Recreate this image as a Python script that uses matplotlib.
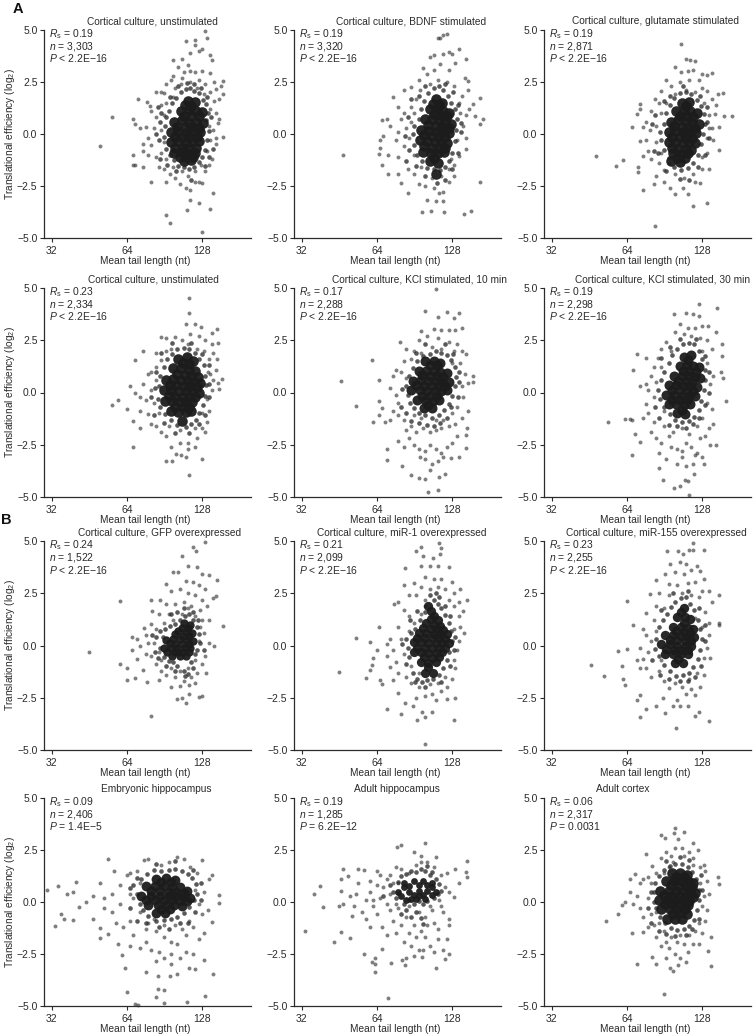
import matplotlib
matplotlib.use("Agg")
import matplotlib.pyplot as plt

W, H = 754, 1034
plt.rcParams['font.family'] = ['Liberation Sans', 'DejaVu Sans']
plt.rcParams['mathtext.fontset'] = 'custom'
plt.rcParams['mathtext.rm'] = 'Liberation Sans'
plt.rcParams['mathtext.it'] = 'Liberation Sans:italic'
plt.rcParams['mathtext.bf'] = 'Liberation Sans:bold'
plt.rcParams['mathtext.default'] = 'regular'

titles = ["Cortical culture, unstimulated", "Cortical culture, BDNF stimulated", "Cortical culture, glutamate stimulated",
          "Cortical culture, unstimulated", "Cortical culture, KCl stimulated, 10 min", "Cortical culture, KCl stimulated, 30 min",
          "Cortical culture, GFP overexpressed", "Cortical culture, miR-1 overexpressed", "Cortical culture, miR-155 overexpressed",
          "Embryonic hippocampus", "Adult hippocampus", "Adult cortex"]
rs_values = ["0.19", "0.19", "0.19", "0.23", "0.17", "0.19", "0.24", "0.21", "0.23", "0.09", "0.19", "0.06"]
n_values = ["3,303", "3,320", "2,871", "2,334", "2,288", "2,298", "1,522", "2,099", "2,255", "2,406", "1,285", "2,317"]
p_values = ["< 2.2E\u221216"] * 9 + ["= 1.4E\u22125", "= 6.2E\u221212", "= 0.0031"]
x_ticks = [32, 64, 128]
x_tick_labels = ["32", "64", "128"]
y_ticks = [-5.0, -2.5, 0.0, 2.5, 5.0]
y_tick_labels = ["\u22125.0", "\u22122.5", "0.0", "2.5", "5.0"]

# (mean tail length in nt, translational efficiency).
# dots_*: individually visible points. ring_*: the crowded edge of the cloud.
# core_*: the saturated overplotted centre.
dots_1 = [(50,-.6),(56,.83),(71,1.7),(77,1.55),(79,1.35),(68,.7),(69,.5),(68,-1),(68,-1.5),(69,-1.5),(74,-1.6),(80,-2.3),(92,-2.3),(92,-3.9),(95,-4.3),(111,-3.65),(115,-3.15),(125,-3.3),(128,-4.7),(138,-3.6),(142,-2.85),(155,-.15),(155,2.55),(131,4.97),(134,4.6),(110,4.45),(120,4.5),(120,4.3),(128,4.1),(124,4),(115,3.9),(98,3.55),(106,3.6),(138,3.8),(140,3.55),(152,2.3),(155,1.9),(146,2.15),(143,2.5),(150,.7),(148,.55),(143,1.6),(150,1.7),(138,2.95),(128,3.05),(120,3),(115,3.05),(108,3),(103,3.2),(112,3.3),(98,2.8),(92,2.4),(88,2),(84,2),(90,1.95),(88,1.4),(80,1.1),(84,.8),(82,.3),(76,.35),(72,.3),(78,-.2),(74,-.5),(80,-.55),(74,-.8),(78,-1),(84,-1.1),(88,-.9),(86,-1.6),(90,-1.7),(95,-1.9),(100,-2.1),(104,-2.4),(110,-2.6),(115,-2.7),(120,-2.3),(124,-2.3),(128,-2.35),(132,-1.8),(136,-1.5),(140,-1.2),(145,-.5),(146,-.2),(142,.2),(145,1),(138,2),(132,2.4),(125,2.6),(115,2.5),(105,2.4),(98,1.8),(92,1.5),(90,.9),(88,.2),(90,-.4),(92,-1.2),(98,-1.6),(106,-1.8),(112,-2),(120,-1.8),(127,-1.5),(134,-.8),(138,-.3),(136,.4),(138,1.2),(130,1.9),(122,2.2),(100,2.2),(96,2.6),(106,2.7)]
ring_1 = [(94,1.1),(97,1.5),(101,1.75),(105,2),(110,2.15),(115,2.2),(119,2.05),(125,1.95),(129,1.65),(133,1.45),(135,1),(133,.65),(137,.15),(134,-.3),(131,-.75),(128,-1.1),(124,-1.35),(119,-1.6),(113,-1.7),(108,-1.6),(103,-1.55),(99,-1.25),(95,-1),(92,-.7),(90,-.15),(91,.4),(92,.8),(87,.6),(86,-.3),(88,1),(95,1.8),(103,2.3),(111,2.45),(119,2.4),(127,2.2),(134,1.8),(139,.8),(141,-.7),(136,-1.1),(131,-1.55),(116,-2.2),(101,-1.8),(93,-1.5),(87,-1.2),(84,0),(85,1.3)]
core_1 = [(112,1.6),(120,1.55),(105,1.1),(113,1.15),(121,1.1),(128,1.05),(99,.6),(106,.65),(113,.55),(121,.6),(129,.55),(96,.1),(103,.15),(110,.05),(118,.1),(126,.1),(96,-.4),(103,-.35),(110,-.45),(117,-.4),(125,-.35),(99,-.9),(106,-.85),(113,-.95),(120,-.9),(108,-1.3),(116,-1.25),(116,1.35),(108,.85),(116,.85),(124,.85),(102,.35),(110,.35),(117,.35),(125,.3),(100,-.15),(107,-.15),(114,-.15),(122,-.15),(100,-.65),(107,-.65),(114,-.65),(121,-.65),(110,-1.1),(118,-1.1),(104,-1.1),(109,1.4)]

dots_2 = [(47,-1),(74,1.8),(65,-.95),(67,.65),(70,.7),(68,-.1),(66,-.3),(66,-.65),(71,-1),(67,-1.5),(71,-1.9),(78,-1.9),(80,-2.35),(85,-2.85),(97,-3.75),(105,-3.7),(119,-3.75),(143,-3.85),(152,-3.7),(165,-2.3),(170,.7),(165,.5),(158,.85),(165,1.75),(155,1.45),(148,2.55),(146,3.6),(136,4.1),(122,4.8),(118,4.75),(112,4.6),(115,4.6),(124,3.95),(118,3.85),(128,3.85),(108,3.8),(104,3.7),(98,3.15),(88,2.25),(82,2.1),(78,1.3),(72,.4),(80,.7),(132,3.4),(125,3.1),(115,3.35),(108,3.1),(102,2.9),(94,2.6),(144,2.7),(148,2.1),(140,1.85),(150,1.2),(146,.9),(142,.4),(146,-.2),(146,-.7),(136,-1.05),(130,-1.5),(124,-2.3),(118,-2.8),(113,-2.85),(110,-3.2),(118,-3.2),(102,-3.15),(100,-2.5),(94,-2.4),(90,-1.9),(85,-1.7),(78,-1.1),(82,-.6),(76,-.3),(78,.1),(84,.3),(82,1),(88,1.3),(92,1.7),(95,2.1),(104,2.4),(112,2.6),(122,2.5),(130,2.3),(136,1.5),(138,1),(134,-.3),(127,-1.2),(116,-2),(106,-2.1),(108,-2.6),(96,-1.6),(90,-1),(86,-.2),(88,.6),(90,1),(130,-2),(124,-1.7)]
ring_2 = [(94,.7),(96,1.2),(99,1.6),(103,1.95),(108,2.2),(113,2.3),(118,2.1),(123,1.85),(127,1.5),(131,1.2),(134,.7),(133,.2),(131,-.35),(128,-.9),(125,-1.3),(120,-1.6),(115,-1.75),(108,-1.7),(102,-1.65),(97,-1.3),(93,-1),(90,-.55),(89,0),(90,.4),(86,-.75),(84,-1.3),(92,-1.55),(100,-2),(111,-2.35),(120,-2.2),(128,-1.7),(135,-.9),(139,.1),(139,.55),(135,1.4),(129,2),(120,2.4),(100,2.3),(94,1.85),(88,1.7),(85,.8),(83,-.1)]
core_2 = [(110,1.7),(117,1.5),(104,1.2),(111,1.2),(118,1.1),(125,1),(100,.7),(106,.7),(113,.65),(120,.6),(127,.5),(96,.2),(103,.15),(110,.1),(117,.1),(124,.05),(95,-.3),(102,-.35),(109,-.4),(116,-.4),(122,-.45),(98,-.85),(105,-.9),(112,-.9),(119,-.85),(104,-1.3),(112,-1.4),(110,-1.9),(107,1.45),(114,1.4),(108,.95),(115,.9),(122,.85),(103,.45),(110,.4),(117,.35),(124,.3),(99,-.05),(106,-.1),(113,-.15),(120,-.15),(99,-.6),(106,-.65),(113,-.65),(120,-.65),(108,-1.15)]

dots_3 = [(48,-1.05),(58,-1.55),(62,-1.25),(71,-1.6),(71,-1.85),(74,-2.7),(83,-4.4),(105,4.35),(110,3.6),(115,3.55),(120,3.5),(118,-3.45),(134,-3.3),(150,-.75),(155,1.95),(168,.85),(156,.85),(150,.35),(140,2.95),(67,.35),(72,1.45),(72,1.2),(70,.95),(100,3.2),(92,2.6),(83,1.7),(105,3),(112,3.05),(118,3.1),(128,2.9),(134,2.85),(124,2.6),(114,2.6),(104,2.5),(96,2.3),(88,2.05),(86,1.5),(80,1.1),(76,.6),(74,.35),(79,.2),(72,-.35),(76,-.3),(78,-.8),(74,-1.05),(80,-1.2),(86,-1.4),(90,-1.75),(84,-2),(82,-2.4),(90,-2.3),(95,-2.6),(100,-2.9),(107,-2.6),(112,-2.9),(120,-2.3),(126,-2.35),(128,-1.7),(136,-1.7),(142,-.3),(134,-.9),(140,.3),(144,.95),(146,1.4),(140,1.7),(134,2.05),(148,1.9),(128,2.2),(134,-.2),(128,-1.1),(118,-1.9),(108,-2.1),(100,-1.9),(94,-1.4),(88,-.9),(84,-.4),(84,.4),(88,1),(92,1.5),(100,1.9),(110,2.1),(120,2),(130,1.5),(136,.9),(136,.3)]
ring_3 = [(90,.5),(92,1),(95,1.4),(99,1.75),(104,1.95),(110,2),(116,1.9),(122,1.65),(127,1.35),(130,.95),(131,.5),(129,0),(127,-.5),(123,-1),(118,-1.4),(112,-1.65),(105,-1.75),(99,-1.6),(94,-1.15),(90,-.75),(88,-.3),(87,.1),(83,.9),(85,-.9),(92,-1.8),(104,-2.15),(113,-2.2),(123,-1.6),(131,-1),(136,-.2),(134,.6),(134,1.3),(126,1.85),(107,2.3),(95,1.85),(90,1.6),(81,.5),(82,-.8)]
core_3 = [(106,1.5),(114,1.55),(101,1.1),(108,1.1),(115,1.1),(122,1),(96,.6),(103,.65),(110,.6),(117,.55),(124,.5),(94,.1),(100,.15),(107,.1),(114,.05),(121,.05),(94,-.4),(100,-.4),(107,-.45),(114,-.4),(120,-.45),(98,-.9),(105,-.95),(112,-.9),(104,-1.35),(96,-1.3),(110,1.35),(104,.85),(111,.85),(118,.8),(99,.4),(106,.35),(113,.3),(120,.3),(97,-.15),(104,-.15),(110,-.2),(117,-.2),(97,-.65),(103,-.7),(110,-.7),(116,-.75),(102,-1.15),(109,-1.15)]

dots_4 = [(56,-.6),(59,-.35),(64,-.8),(69,1.55),(74,2),(68,-2.6),(66,.3),(69,0),(68,-1.35),(72,-1.7),(92,-3.3),(97,-3.3),(113,-3.95),(128,-3.2),(110,-3.1),(101,-2.95),(113,4.5),(113,3.8),(120,3.3),(147,3.05),(110,3.3),(127,3.15),(140,2.85),(148,2.35),(147,1.6),(154,.65),(149,.15),(88,2.65),(92,2.6),(100,2.65),(115,2.8),(106,2.5),(124,2.7),(132,2.5),(140,2.3),(142,1.9),(136,1.6),(145,1.1),(142,.6),(148,.45),(140,.1),(134,-.3),(136,-.9),(134,-1.4),(128,-1.7),(122,-2.2),(112,-2.4),(112,-2.7),(104,-2.4),(96,-2.6),(92,-2.1),(88,-1.9),(84,-1.6),(80,-1.5),(78,-1.05),(72,-.9),(76,-.35),(72,-.2),(74,.4),(78,.9),(80,1),(84,1.2),(88,1.55),(92,2),(84,1.9),(96,2.1),(112,2.3),(122,2.1),(130,2),(135,1),(128,-1),(120,-1.7),(104,-1.8),(94,-1.6),(86,-1),(82,-.5),(80,.1),(84,.6),(120,-2.6),(105,-3),(138,.9),(132,-1.9)]
ring_4 = [(86,.3),(87,.8),(90,1.2),(93,1.6),(97,1.85),(102,2.1),(108,2.15),(114,2.1),(120,1.9),(125,1.6),(130,1.3),(132,.8),(133,.35),(131,-.15),(129,-.6),(125,-1),(121,-1.3),(116,-1.5),(110,-1.65),(102,-1.55),(96,-1.3),(91,-1.05),(87,-.7),(85,-.3),(83,.2),(80,-.2),(82,-1.1),(90,-1.45),(100,-1.95),(114,-1.95),(124,-1.5),(131,-1.1),(137,-.2),(137,.4),(136,1.3),(128,1.85),(116,2.35),(97,2.35),(88,1.9),(84,1)]
core_4 = [(103,1.6),(111,1.7),(118,1.5),(98,1.15),(105,1.15),(113,1.1),(120,1.05),(92,.6),(98,.65),(105,.6),(112,.55),(119,.5),(126,.45),(90,.1),(96,.1),(103,.05),(110,.05),(117,.05),(124,0),(91,-.4),(97,-.4),(104,-.45),(110,-.45),(117,-.45),(96,-.9),(103,-.95),(110,-.95),(116,-.9),(106,-1.35),(107,1.4),(114,1.35),(102,.9),(109,.85),(116,.8),(123,.75),(95,.35),(101,.35),(108,.3),(115,.3),(122,.25),(94,-.15),(100,-.2),(107,-.2),(114,-.2),(120,-.2),(100,-.7),(107,-.7),(113,-.7)]

dots_5 = [(46,.55),(53,-.65),(61,1.55),(65,.6),(65,-.4),(67,-.75),(65,-1.1),(62,-1.4),(69,-1.4),(72,-1.3),(70,-2.7),(70,-3.25),(81,-3.5),(88,-3.95),(94,-4.1),(100,-4.15),(103,-4.75),(112,-4.65),(114,-4.05),(120,-3.9),(110,4.95),(100,3.9),(122,3.85),(137,3.8),(112,3.6),(130,3.55),(140,3.1),(96,2.95),(79,2.4),(84,2.1),(146,1.85),(155,.8),(155,.5),(148,.45),(148,-.9),(147,-1.7),(145,-2.65),(145,-2.05),(136,-3.1),(127,-3.15),(108,3.05),(116,3),(124,3),(132,3),(102,2.7),(112,2.6),(124,2.4),(134,2.3),(140,2),(94,2.5),(90,2),(82,1.5),(76,1.1),(74,.8),(72,.2),(80,1),(76,-.1),(78,-.5),(74,-.9),(78,-1.1),(82,-1.3),(84,-1.8),(78,-2.3),(82,-2.6),(86,-2.2),(90,-2.5),(94,-2.7),(100,-2.8),(104,-2.5),(110,-2.7),(116,-2.9),(122,-2.6),(128,-2.4),(134,-2.1),(132,-1.5),(140,-1.2),(134,-.7),(142,-.2),(140,.3),(144,.9),(138,1.4),(88,-1.6),(92,-1.9),(98,-1.7),(104,-1.9),(110,-1.8),(116,-1.7),(124,-1.6),(128,-1),(100,-3.2),(106,-3.4),(112,-3.3),(118,-3.1),(104,-3.7),(95,-3.1),(110,-1.3),(96,-1.2),(90,-1.1),(118,-1.3),(130,2),(128,1.4),(84,.7),(88,1.6),(96,1.9),(106,2.2),(116,2.1)]
ring_5 = [(84,.3),(85,-.1),(87,-.5),(90,-.75),(94,-1),(100,-1.1),(106,-1.2),(113,-1.1),(119,-.85),(124,-.55),(128,-.15),(131,.3),(133,.75),(131,1.2),(127,1.55),(122,1.8),(116,1.9),(110,2),(104,1.85),(98,1.75),(93,1.5),(89,1.15),(86,.8),(81,.15),(80,-.7),(84,-1),(88,-1.35),(94,-1.45),(102,-1.55),(108,-1.6),(115,-1.45),(122,-1.2),(127,-.7),(135,-.2),(137,.5),(136,1),(129,1.85),(120,2.3),(100,2.3),(92,1.9)]
core_5 = [(100,1.5),(108,1.5),(115,1.4),(94,1.05),(101,1.05),(108,1.05),(115,1),(122,.95),(89,.55),(96,.6),(103,.55),(110,.55),(117,.5),(124,.5),(88,.1),(95,.1),(102,.05),(109,.05),(116,.05),(122,.1),(93,-.35),(100,-.35),(107,-.4),(113,-.35),(99,-.75),(106,-.75),(104,1.3),(111,1.3),(97,.85),(104,.8),(111,.8),(118,.75),(92,.35),(99,.3),(106,.3),(113,.3),(120,.3),(97,-.15),(104,-.15),(111,-.15),(103,-.6)]

dots_6 = [(54,-1.4),(63,-1.25),(66,-1.25),(67,-1.3),(69,-2),(67,-3),(72,-2.35),(68,1.1),(70,1.85),(76,1.65),(85,1.65),(86,-3.6),(89,-4.2),(99,-4.55),(104,-4.45),(114,-4.9),(109,-4.2),(112,-4.25),(119,-3.9),(124,4.25),(147,4.05),(99,3.75),(110,3.8),(118,3.75),(124,3.65),(135,3.2),(145,2.9),(154,2.3),(154,1.75),(152,1),(155,.7),(160,-.4),(145,-2.5),(130,-3.4),(128,-3.1),(104,3.3),(112,3.1),(120,3.1),(128,3.2),(100,2.9),(108,2.8),(116,2.7),(126,2.6),(134,2.5),(140,2.1),(92,2.4),(88,2.1),(96,2),(82,1.2),(80,.8),(76,.4),(72,.3),(78,.1),(82,-.2),(76,-.55),(74,-1.2),(78,-1),(82,-1.4),(80,-1.9),(84,-2.2),(88,-2.4),(86,-2.9),(94,-2.1),(96,-2.6),(102,-2.7),(106,-2.8),(110,-2.4),(116,-2.6),(122,-2.9),(126,-2.2),(132,-2.1),(138,-2.5),(136,-1.7),(142,-1.5),(140,-.8),(134,-.5),(138,.4),(142,.8),(134,1.4),(128,2),(90,-1.6),(98,-1.9),(106,-1.7),(114,-2),(122,-1.6),(128,-1.2),(92,-3.2),(102,-3.4),(110,-3.5),(118,-3.4),(106,-3.1),(120,-3),(88,1.2),(90,-.9),(84,.5)]
ring_6 = [(88,.6),(90,1),(94,1.4),(97,1.8),(102,2.1),(107,2.3),(113,2.35),(119,2.3),(124,2),(128,1.6),(131,1.1),(132,.6),(130,.1),(127,-.4),(124,-.85),(119,-1.15),(113,-1.35),(106,-1.4),(100,-1.3),(95,-1.05),(90,-.7),(87,-.3),(85,.1),(83,-.7),(86,-1.2),(94,-1.55),(102,-1.6),(110,-1.7),(118,-1.5),(125,-1.2),(132,-.6),(136,0),(136,1),(131,1.75),(121,2.55),(104,2.55),(95,2.2),(88,1.65)]
core_6 = [(108,1.7),(116,1.8),(104,1.25),(111,1.3),(118,1.25),(124,1.2),(99,.8),(106,.8),(113,.8),(120,.75),(126,.7),(94,.35),(101,.35),(108,.3),(115,.3),(122,.25),(92,-.1),(99,-.1),(106,-.15),(113,-.15),(120,-.15),(94,-.55),(101,-.55),(108,-.6),(115,-.55),(102,-1),(109,-1.05),(112,1.55),(107,1.05),(114,1.05),(121,1),(103,.55),(110,.55),(117,.5),(97,.1),(104,.1),(111,.05),(118,.05),(97,-.35),(104,-.35),(111,-.35),(106,-.85)]

dots_7 = [(45,-.3),(60,2.15),(60,-.9),(64,-1.1),(64,-1.65),(69,-1.55),(77,-1.75),(80,-3.35),(67,.4),(70,.3),(72,0),(67,-.2),(70,-.65),(74,-1.15),(86,-1.65),(96,-2),(102,-2.55),(106,-2.5),(110,-2.75),(113,-2.3),(125,-2.45),(128,-2.4),(133,-1.3),(143,0),(155,.95),(146,2.35),(142,2.25),(147,3.15),(137,3.35),(128,3.4),(131,4.95),(118,4.7),(121,4.5),(106,4.3),(122,3.75),(112,3.8),(98,3.5),(103,3.5),(92,2.95),(80,2.2),(81,1.65),(75,.85),(87,2.2),(110,3.1),(118,3.05),(124,2.9),(132,2.7),(96,2.6),(104,2.7),(112,2.5),(120,2.4),(128,2.2),(134,1.9),(92,2),(100,2),(108,2.1),(116,1.9),(126,1.7),(86,1.5),(94,1.5),(80,1.05),(84,.8),(76,.5),(78,.1),(76,-.4),(80,-.5),(84,-.9),(88,-1.2),(92,-1.4),(100,-1.5),(108,-1.7),(116,-1.5),(122,-1.3),(128,-.9),(132,-.5),(136,.1),(130,.6),(136,1.2),(128,1.2),(104,-1.95),(114,-1.9),(120,-1.8),(96,-1.1),(104,-1.2),(112,-1.1),(120,-.7),(124,.2),(126,.9),(82,.1),(86,-.3),(90,1.1),(98,1.2),(106,1.5),(112,1.8),(120,1.4),(88,-.7)]
ring_7 = [(84,.4),(87,.7),(91,.8),(95,.95),(100,1.05),(104,1.2),(109,1.4),(114,1.5),(118,1.2),(122,.9),(124,.55),(122,-.2),(120,-.4),(116,-.8),(112,-1.35),(108,-1.2),(102,-1),(98,-.8),(94,-.75),(90,-.55),(87,-.1),(85,-.6),(83,-.3),(81,.5),(89,.4),(118,1.6),(123,1.2),(126,.1),(118,-1.1),(109,-1.45),(100,-1.2),(92,-1),(96,1.5),(102,1.6),(108,1.8),(130,-.2)]
core_7 = [(108,1.1),(115,1),(103,.7),(110,.65),(117,.6),(92,.25),(98,.3),(104,.3),(111,.25),(118,.2),(90,-.1),(96,-.1),(102,-.1),(109,-.1),(115,-.1),(97,-.5),(104,-.5),(110,-.5),(112,.85),(107,.45),(100,.05),(106,.05),(113,.05),(103,-.3),(95,.1),(93,-.3),(100,-.3),(113,.45),(106,.85),(100,.55),(107,-.3),(113,-.3)]

dots_8 = [(45,-1.25),(53,.35),(58,-1.55),(60,.15),(61,-.95),(60,-1.15),(65,.9),(64,-.2),(62,-.6),(66,-1.65),(67,-1.85),(70,-3.05),(80,-3.3),(78,-2.25),(83,-2.75),(89,-2.9),(93,-3.55),(100,-3.4),(97,-3.2),(100,-4.7),(130,-3.55),(131,-2.5),(122,-2.55),(106,-3.2),(147,2.2),(142,1.65),(143,.6),(83,3.7),(92,4.5),(96,4.7),(98,4.3),(113,4.9),(116,4.65),(115,4.4),(107,4.2),(125,3.75),(82,2.9),(75,2),(78,2.1),(128,3.05),(138,2.7),(96,3.8),(104,3.8),(112,3.8),(100,3.3),(108,3.2),(116,3.2),(90,3),(96,2.8),(104,2.7),(112,2.8),(120,2.7),(130,2.5),(136,2.1),(86,2.4),(92,2.4),(100,2.2),(124,2.2),(82,1.7),(86,1.4),(130,1.9),(136,1.4),(138,.9),(130,.8),(78,.9),(72,.3),(70,.05),(74,-.2),(70,-.5),(76,-.8),(72,-1.05),(78,-1.3),(74,-1.65),(84,-1.5),(88,-1.8),(94,-2),(92,-2.5),(100,-2.4),(106,-2.3),(110,-2.6),(116,-2.2),(122,-2),(128,-1.6),(120,-1.5),(112,-1.8),(104,-1.85),(130,-.7),(134,-.2),(136,.2),(132,-1.1),(80,.3),(82,-.4),(88,-1),(94,-1.3),(86,.7),(90,1.1),(96,1.5),(100,1.9)]
ring_8 = [(84,.3),(85,-.1),(86,-.55),(89,-1.3),(93,-1.6),(97,-1.75),(102,-1.65),(107,-1.6),(113,-1.4),(118,-1.1),(122,-.7),(125,-.3),(128,.2),(127,.7),(124,1.1),(120,1.45),(116,1.8),(112,2),(108,2.2),(104,2.4),(100,1.6),(95,1.2),(91,.8),(88,.6),(87,1.2),(93,1.65),(110,2.5),(114,2.3),(120,1.9),(126,1.4),(132,.4),(130,-.2),(126,-1),(116,-1.75),(100,-2),(91,-1.75),(84,-.9),(81,.05)]
core_8 = [(103,1.9),(108,1.4),(101,1.1),(108,1),(115,.95),(94,.6),(101,.6),(108,.55),(115,.55),(122,.55),(90,.15),(96,.15),(103,.1),(110,.1),(117,.1),(124,.1),(90,-.3),(96,-.3),(103,-.35),(110,-.35),(117,-.3),(96,-.8),(103,-.85),(110,-.8),(100,-1.3),(107,-1.3),(105,1.65),(105,1.25),(112,1.2),(98,.85),(105,.8),(111,.8),(118,.75),(93,.35),(100,.35),(107,.35),(113,.35),(120,.3),(93,-.1),(100,-.1),(106,-.1),(113,-.1),(120,-.1),(99,-.55),(106,-.6),(113,-.55),(103,-1.05)]

dots_9 = [(46,-.95),(52,-1.45),(59,-.25),(64,2.15),(64,-.15),(61,-1),(62,-1.6),(63,-1.9),(72,-2.35),(70,-2.6),(72,-3.4),(76,-3.05),(84,-2.9),(91,-3.25),(89,-2.5),(101,-3.95),(137,-3.6),(124,-3.2),(120,-3.35),(93,4.5),(103,4.5),(107,4.4),(114,4.55),(118,4.55),(118,4.9),(130,4.55),(95,3.9),(122,3.8),(130,3.2),(150,2.4),(150,1.1),(150,1),(138,-.6),(79,2.45),(68,1),(76,1.55),(91,3.4),(84,3.15),(104,4),(110,3.9),(116,3.6),(126,3.55),(100,3.5),(108,3.4),(94,2.95),(102,2.9),(112,3),(120,3.05),(128,2.6),(136,2.6),(140,2.1),(86,2.5),(94,2.4),(106,2.5),(116,2.4),(124,2.3),(84,1.9),(90,1.8),(132,1.6),(136,1.1),(82,1.2),(74,.8),(76,.5),(72,-.1),(70,-.7),(74,-.65),(76,-1.1),(72,-1.1),(80,-1.5),(86,-1.2),(78,-.3),(90,-1.7),(94,-2.05),(100,-1.8),(106,-2),(102,-2.6),(110,-2.3),(116,-2.1),(120,-2.35),(126,-2),(130,-1.4),(122,-1.3),(114,-1.6),(130,-.6),(134,-.1),(136,.5),(128,.9),(120,1.3),(84,.7),(80,.2),(104,-2.9),(98,-2.9),(112,-2.9),(88,-.7)]
ring_9 = [(84,.3),(86,.9),(89,1.2),(93,1.5),(96,1.85),(100,2.1),(105,2.25),(110,2.3),(115,2),(119,1.7),(123,1.2),(126,.8),(128,.3),(126,-.2),(123,-.65),(118,-1.05),(113,-1.3),(107,-1.4),(101,-1.45),(95,-1.2),(90,-.95),(86,-.5),(83,-.15),(81,-.7),(87,-1.4),(94,-1.6),(104,-1.7),(112,-1.7),(120,-1.5),(127,-1),(132,.2),(131,1),(124,1.8),(112,2.6),(98,2.5),(88,1.7)]
core_9 = [(108,1.8),(102,1.35),(109,1.35),(115,1.25),(98,.9),(105,.9),(112,.85),(118,.8),(91,.5),(98,.5),(105,.45),(112,.4),(119,.4),(88,.05),(95,.05),(102,0),(109,0),(116,0),(91,-.4),(98,-.4),(105,-.4),(112,-.4),(100,-.85),(107,-.85),(105,1.6),(108,1.1),(101,.7),(108,.65),(115,.6),(95,.25),(102,.25),(109,.2),(116,.2),(92,-.15),(99,-.2),(105,-.2),(112,-.2),(103,-.65)]

dots_10 = [(30.5,.6),(33,-1.15),(34,.75),(35,-.6),(36,-.8),(37,.4),(39,.5),(39,-.85),(40,.95),(41,-.25),(44,0),(47,-.8),(47,.3),(50,-1.25),(50,-1.75),(54,-1.55),(54,2.05),(57,1.5),(59,-2),(61,-2.55),(63,-3.15),(64,-4.35),(69,-4.9),(71,-4.95),(84,-4.55),(85,-4.2),(90,-4.25),(90,-4.85),(111,-4.8),(131,-4.5),(142,-3.45),(130,-2.8),(76,-3.35),(85,-3.55),(95,-3.55),(102,-3.45),(113,-3.15),(120,-3.2),(149,.35),(149,-.05),(140,1.3),(137,1.1),(140,-.95),(128,2),(102,2.15),(94,1.9),(75,2),(78,2.05),(108,2.05),(50,.9),(52,.2),(52,-.3),(56,.4),(56,-.5),(60,.8),(60,-.1),(58,-1),(64,1.3),(66,1.4),(62,-1.2),(66,-.9),(68,-1.6),(66,-2.1),(72,-2.2),(76,-1.9),(80,-2.3),(86,-2.4),(90,-2.7),(84,-2.85),(96,-3),(104,-2.7),(110,-2.4),(118,-2.5),(125,-1.8),(130,-1.5),(135,-.4),(128,-.6),(125,-.1),(130,.5),(122,1.4),(115,1.7),(88,1.8),(70,1.5),(72,.9),(68,.2),(72,-.5),(78,-1),(84,-1.4),(90,-1.7),(96,-1.9),(102,-2),(110,-1.6),(118,-1.2),(114,-.9),(120,.6),(66,.4),(96,-2.5),(106,-1.3),(76,-1.3),(82,-.8),(90,-1.1),(100,-1.1)]
ring_10 = [(68,.8),(70,.4),(72,-.1),(74,-.4),(78,-.65),(84,-.9),(90,-.85),(96,-.8),(102,-.7),(108,-.55),(114,-.25),(119,.1),(122,.4),(121,.85),(117,1.15),(112,1.35),(106,1.5),(100,1.6),(94,1.55),(88,1.5),(82,1.55),(77,1.35),(73,1.1),(70,1.15),(66,.65),(66,-.3),(70,-.9),(76,-1),(86,-1.2),(94,-1.3),(104,-1),(112,-1),(120,-.5),(127,.1),(127,.9),(118,1.55),(100,1.95),(84,1.85)]
core_10 = [(84,1.1),(92,1.15),(100,1.05),(76,.75),(83,.75),(90,.75),(97,.7),(104,.7),(111,.55),(73,.3),(80,.3),(87,.3),(94,.3),(101,.3),(108,.25),(115,.2),(78,-.15),(85,-.15),(92,-.15),(99,-.15),(106,-.2),(84,-.55),(91,-.55),(88,.95),(96,.95),(80,.55),(87,.55),(94,.5),(101,.5),(108,.45),(76,.1),(83,.1),(90,.1),(97,.1),(104,.05),(111,.05),(88,-.35),(95,-.35)]

dots_11 = [(33,-1.4),(36,.4),(38,.75),(39,-.25),(43,-1.9),(46,-1.45),(47,1.6),(46,1.1),(49,1.25),(46,.55),(45,-.2),(47,-.1),(50,-1.75),(51,-.65),(54,1.6),(57,1.55),(57,-2.5),(63,-2.7),(61,-2.9),(63,-3),(63,-3.35),(71,-4.6),(77,2.65),(80,2.75),(100,2.85),(90,2.4),(110,2.15),(131,1.6),(147,1.95),(147,1.2),(145,1.45),(137,.9),(130,.25),(125,-.8),(125,-1.1),(122,-1.8),(125,-2.5),(120,-2.75),(110,-3.15),(97,-2.65),(73,-2.95),(81,-2.8),(83,-3.05),(67,-2.25),(50,.3),(53,.4),(54,.9),(52,-.2),(56,-.5),(58,-.8),(60,.5),(60,-1.2),(62,.1),(62,-.2),(64,.8),(64,-.6),(66,1.3),(66,.2),(67,-1.2),(70,-1.6),(70,1.1),(72,.4),(72,-.4),(74,-.9),(76,1.7),(76,-1.5),(78,.9),(78,-.3),(80,1.6),(80,-1.1),(82,-1.9),(84,-.7),(86,1.4),(86,-1.5),(88,-2.1),(90,-1.1),(92,1.8),(92,-1.7),(94,-.5),(96,2.2),(96,-1.4),(98,-2.3),(100,-.7),(102,1.9),(102,-1.1),(104,-2.1),(106,-.4),(108,1.7),(108,-1),(112,-1.8),(114,.1),(116,1.3),(118,-.5),(118,-2.3),(120,.7),(122,1.4),(108,-2.4),(112,-1.3),(124,.5),(116,-.2),(74,.9),(84,-2.7),(68,.7),(70,-.1),(86,-.2),(76,-.1),(90,-2.6),(94,-2.3),(100,-1.7),(104,-.2),(72,1.3),(96,1.9),(58,.1),(60,1),(64,1.5)]
ring_11 = [(72,.8),(74,.5),(76,.2),(78,.45),(80,1.25),(82,-.1),(84,1.35),(86,.1),(88,1.5),(90,-.1),(92,1.45),(94,.05),(96,1.6),(98,-.1),(100,1.5),(102,.05),(104,1.3),(106,1.45),(108,.2),(110,1.1),(112,.4),(114,.85),(116,.55),(84,-.4),(88,-.7),(92,-.5),(96,-.75),(98,-1.05),(80,-.6),(78,.95),(68,.3),(102,1.75)]
core_11 = [(82,.9),(90,1),(98,1),(106,.9),(78,.5),(86,.5),(94,.55),(102,.55),(110,.5),(84,.1),(92,.15),(100,.15),(86,.75),(94,.8),(102,.8),(90,.35),(98,.35),(82,.7),(106,.7),(94,.3),(88,.15),(80,.3),(106,.35)]

dots_12 = [(53,-.9),(59,-.6),(61,-.15),(63,0),(66,1.1),(69,1.35),(67,-1.5),(70,-3),(84,-3),(81,-2.65),(90,-4.4),(95,-3.15),(98,-3.3),(103,-3.05),(139,-3.1),(135,-2.35),(139,-1.7),(150,.85),(148,1.2),(130,1.8),(123,2.5),(118,2.85),(108,3.35),(100,3.55),(99,3.3),(103,3.05),(88,3.2),(91,3.1),(76,2.3),(81,1.75),(100,2.6),(106,2.6),(114,2.4),(92,2.4),(88,2.1),(96,2.2),(108,2.2),(118,2.1),(126,1.7),(132,1.5),(134,1),(72,.9),(74,1.1),(66,.5),(70,.3),(68,-.1),(72,-.3),(74,-.7),(78,.2),(78,-1.2),(82,-1.1),(74,-1.45),(84,-1.7),(88,-2.1),(94,-2.2),(92,-2.7),(100,-2.5),(104,-2.7),(110,-2.9),(112,-2.4),(118,-2),(124,-2),(128,-1.5),(120,-1.4),(132,-.9),(134,-.4),(130,.3),(136,.4),(126,.9),(80,.9),(84,1.4),(78,1.2),(84,-.5),(80,-.6),(86,-1),(90,-1.4),(96,-1.7),(102,-1.9),(108,-2),(114,-1.6),(124,-1),(128,-.2),(104,-1.6),(92,-1.9),(118,1.8),(98,1.9),(94,1.7),(90,1.4)]
ring_12 = [(82,.5),(83,.9),(86,1.25),(90,1.55),(95,1.75),(100,1.85),(106,1.85),(112,1.7),(117,1.45),(121,1.1),(124,.6),(125,.1),(122,-.4),(119,-.85),(114,-1.15),(108,-1.3),(102,-1.35),(96,-1.25),(91,-1),(87,-.7),(84,-.3),(82,0),(78,-.3),(80,-1),(86,-1.4),(92,-1.55),(100,-1.65),(110,-1.6),(117,-1.3),(124,-.8),(128,.6),(127,1.3),(114,2),(104,2.15),(92,1.95),(80,.5)]
core_12 = [(97,1.4),(104,1.4),(111,1.3),(92,1),(99,1),(106,1),(113,.95),(118,.9),(87,.55),(94,.55),(101,.55),(108,.55),(115,.5),(120,.45),(86,.1),(93,.1),(100,.1),(107,.1),(114,.05),(88,-.35),(95,-.35),(102,-.35),(109,-.35),(93,-.8),(100,-.8),(106,-.8),(101,1.2),(108,1.2),(96,.8),(103,.75),(110,.75),(117,.7),(90,.35),(97,.3),(104,.3),(111,.3),(118,.25),(91,-.1),(98,-.1),(105,-.1),(112,-.15),(98,-.6),(104,-.55),(111,-.6)]

dots = [dots_1, dots_2, dots_3, dots_4, dots_5, dots_6, dots_7, dots_8, dots_9, dots_10, dots_11, dots_12]
rings = [ring_1, ring_2, ring_3, ring_4, ring_5, ring_6, ring_7, ring_8, ring_9, ring_10, ring_11, ring_12]
cores = [core_1, core_2, core_3, core_4, core_5, core_6, core_7, core_8, core_9, core_10, core_11, core_12]

# layout in reference pixels
col_left = [44, 294, 544]
row_top = [30, 288, 541, 798]
row_bot = [238, 497, 750, 1006]
panel_w = 207
title_cx = [152, 411, 655, 153, 420, 663, 160, 402, 656, 156, 397, 623]
core_size = [58, 58, 58, 58, 52, 52, 36, 44, 46, 50, 24, 58]

INK = '#2b2b2b'
FS = 7.5
fig = plt.figure(figsize=(W / 100, H / 100), dpi=100)

def fx(p): return p / W
def fy(p): return 1 - p / H

for i in range(12):
    r, c = i // 3, i % 3
    l, t, b = col_left[c], row_top[r], row_bot[r]
    ax = fig.add_axes([fx(l), fy(b), panel_w / W, (b - t) / H])
    ax.set_xscale('log', base=2)
    ax.set_xlim(29.8, 201)
    ax.set_ylim(-5, 5)
    dx, dy = zip(*dots[i])
    rx, ry = zip(*rings[i])
    cx, cy = zip(*cores[i])
    ax.scatter(dx, dy, s=8, color='#2a2a2a', alpha=0.6, linewidths=0, clip_on=False, zorder=2)
    ax.scatter(rx, ry, s=11, color='#222222', alpha=0.75, linewidths=0, clip_on=False, zorder=3)
    ax.scatter(cx, cy, s=core_size[i], color='#1c1c1c', alpha=0.95, linewidths=0, clip_on=False, zorder=4)
    ax.spines['top'].set_visible(False)
    ax.spines['right'].set_visible(False)
    for s in ('left', 'bottom'):
        ax.spines[s].set_color(INK)
        ax.spines[s].set_linewidth(0.9)
    ax.set_xticks(x_ticks)
    ax.set_xticklabels(x_tick_labels)
    ax.minorticks_off()
    ax.set_yticks(y_ticks)
    ax.set_yticklabels(y_tick_labels)
    ax.tick_params(axis='both', labelsize=FS, colors=INK, length=3.2, width=0.8, pad=1.5)
    ax.tick_params(axis='x', pad=2.5)
    fig.text(fx(title_cx[i]), fy(t - 8.5), titles[i], ha='center', va='center', fontsize=7.3, color=INK)
    stats = ["$\\mathit{R}_{s}$ = " + rs_values[i], "$\\mathit{n}$ = " + n_values[i], "$\\mathit{P}$ " + p_values[i]]
    for k, line in enumerate(stats):
        fig.text(fx(l + 5), fy(t + 4.5 + 12 * k), line, ha='left', va='center', fontsize=FS, color=INK)
    fig.text(fx(l + 101), fy(b + 23), "Mean tail length (nt)", ha='center', va='center', fontsize=7.3, color=INK)
    if c == 0:
        fig.text(fx(10.5), fy((t + b) / 2), "Translational efficiency (log$_{2}$)", rotation=90,
                 ha='center', va='center', fontsize=7.3, color=INK)

fig.text(fx(18), fy(9), "A", ha='center', va='center', fontsize=10.5, fontweight='bold', color='#111111')
fig.text(fx(6), fy(520), "B", ha='center', va='center', fontsize=10.5, fontweight='bold', color='#111111')
fig.savefig("out.png", dpi=100)
